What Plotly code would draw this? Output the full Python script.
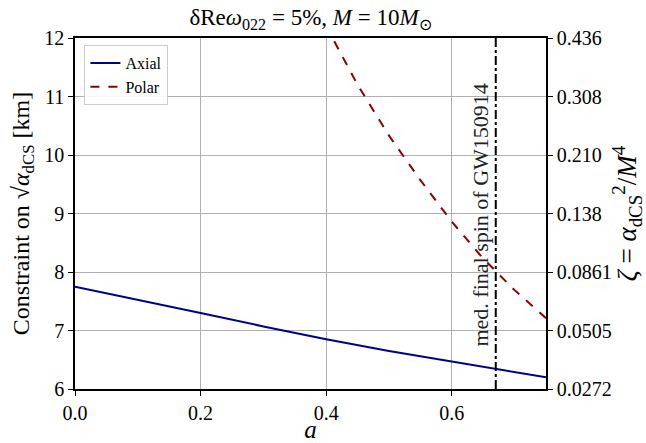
import plotly.graph_objects as go

# --- data ---
a_axial = [0.0, 0.1, 0.2, 0.3, 0.4, 0.5, 0.6, 0.67, 0.75]
c_axial = [7.75, 7.53, 7.30, 7.07, 6.85, 6.65, 6.466, 6.35, 6.20]

a_polar = [0.40, 0.41, 0.45, 0.50, 0.55, 0.60, 0.65, 0.70, 0.75]
c_polar = [12.22, 12.0, 11.2, 10.33, 9.57, 8.86, 8.23, 7.69, 7.21]

gw150914_spin = 0.67

left_ticks = [6, 7, 8, 9, 10, 11, 12]
zeta_labels = ["0.0272", "0.0505", "0.0861", "0.138", "0.210", "0.308", "0.436"]
x_ticks = [0.0, 0.2, 0.4, 0.6]
x_ticklabels = ["0.0", "0.2", "0.4", "0.6"]

FONT = "Liberation Serif"

fig = go.Figure()
fig.add_trace(go.Scatter(x=a_axial, y=c_axial, mode="lines", name="Axial",
                         line=dict(color="#00008b", width=2)))
fig.add_trace(go.Scatter(x=a_polar, y=c_polar, mode="lines", name="Polar",
                         line=dict(color="#8b0000", width=2, dash="dash")))
# invisible trace to carry the right axis
fig.add_trace(go.Scatter(x=[a_axial[0]], y=[left_ticks[0]], yaxis="y2", mode="lines",
                         showlegend=False, hoverinfo="skip",
                         line=dict(color="rgba(0,0,0,0)")))

fig.add_shape(type="line", xref="x", yref="paper", x0=gw150914_spin, x1=gw150914_spin,
              y0=0, y1=1, line=dict(color="black", width=2, dash="dashdot"))
fig.add_annotation(x=gw150914_spin, y=8.97, xref="x", yref="y",
                   text="med. final spin of GW150914", textangle=-90,
                   showarrow=False, xanchor="right", yanchor="middle", xshift=-1,
                   font=dict(family=FONT, size=22, color="#222"))

fig.update_layout(
    width=646, height=443,
    margin=dict(l=75, r=100, t=38, b=54),
    paper_bgcolor="white", plot_bgcolor="white",
    font=dict(family=FONT, size=20, color="black"),
    title=dict(text="δRe<i>ω</i><sub>022</sub> = 5%, <i>M</i> = 10<i>M</i><sub>⊙</sub>",
               x=0.5, xref="paper", xanchor="center", y=0.962, yanchor="middle",
               font=dict(family=FONT, size=23)),
    showlegend=True,
    legend=dict(x=0.02, y=0.98, xanchor="left", yanchor="top",
                bgcolor="rgba(255,255,255,0.9)", bordercolor="#cccccc", borderwidth=1,
                font=dict(family=FONT, size=16), tracegroupgap=0),
    xaxis=dict(range=[0, 0.75], tickvals=x_ticks, ticktext=x_ticklabels,
               showgrid=True, gridcolor="#b0b0b0", gridwidth=1,
               showline=True, linecolor="black", linewidth=1.5, mirror=True,
               ticks="outside", ticklen=5, tickcolor="black",
               zeroline=False, automargin=False,
               title=dict(text="<i>a</i>", font=dict(family=FONT, size=25), standoff=0)),
    yaxis=dict(range=[6, 12], tickvals=left_ticks,
               showgrid=True, gridcolor="#b0b0b0", gridwidth=1,
               showline=True, linecolor="black", linewidth=1.5, mirror=True,
               ticks="outside", ticklen=5, tickcolor="black", zeroline=False,
               automargin=False,
               title=dict(text="Constraint on √<i>α</i><sub>dCS</sub> [km]",
                          font=dict(family=FONT, size=24), standoff=8)),
    yaxis2=dict(range=[6, 12], overlaying="y", side="right",
                tickvals=left_ticks, ticktext=zeta_labels,
                showgrid=False, showline=True, linecolor="black", linewidth=1.5,
                ticks="outside", ticklen=5, tickcolor="black", zeroline=False,
                automargin=False,
                title=dict(text="<i>ζ</i> = <i>α</i><sub>dCS</sub><sup>2</sup>/<i>M</i><sup>4</sup>",
                           font=dict(family=FONT, size=27), standoff=8)),
)

fig.write_html("out.html")
